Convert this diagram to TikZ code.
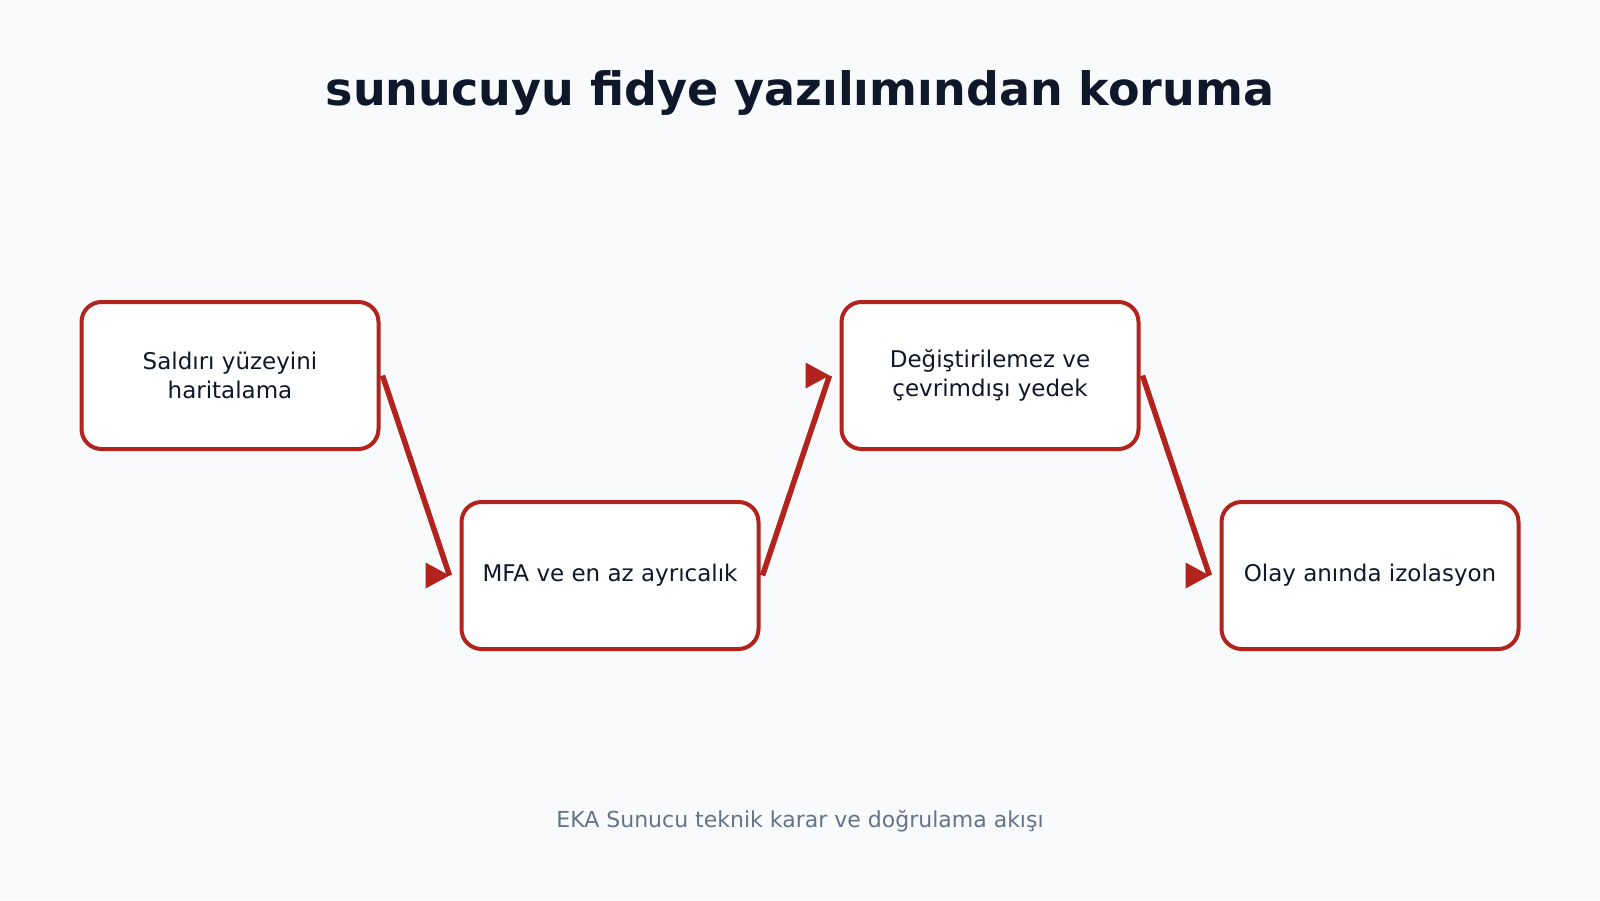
\documentclass[tikz,border=0pt]{standalone}
\usepackage{fontspec}
\setmainfont{DejaVu Sans}
\definecolor{bg}{HTML}{F8FAFC}
\definecolor{accent}{HTML}{B2231E}
\definecolor{ink}{HTML}{0F172A}
\definecolor{muted}{HTML}{64748B}
\begin{document}
\begin{tikzpicture}[x=1pt,y=-1pt,
  stepbox/.style={draw=accent, line width=4pt, fill=white, rounded corners=20pt,
    minimum width=297pt, minimum height=147pt, align=center, text=ink,
    font=\fontsize{23}{29}\selectfont, inner sep=0pt},
  conn/.style={draw=accent, line width=5.5pt},
  tip/.style={fill=accent}]
\fill[bg] (0,0) rectangle (1600,900);
\useasboundingbox (0,0) rectangle (1600,900);
\node[text=ink, font=\fontsize{46}{54}\selectfont\bfseries] (title) at (800,93) {sunucuyu fidye yazılımından koruma};
\node[stepbox] (b1) at (230,375.5) {Saldırı yüzeyini\\haritalama};
\node[stepbox] (b2) at (610,575.5) {\raisebox{-2pt}{MFA ve en az ayrıcalık}};
\node[stepbox] (b3) at (990,375.5) {Değiştirilemez ve\\çevrimdışı yedek};
\node[stepbox] (b4) at (1370,575.5) {\raisebox{-2pt}{Olay anında izolasyon}};
\node[text=muted, font=\fontsize{22}{26}\selectfont] (foot) at (800,821) {EKA Sunucu teknik karar ve doğrulama akışı};
\coordinate (t1) at ([xshift=-10pt]b2.west);
\coordinate (t2) at ([xshift=-10pt]b3.west);
\coordinate (t3) at ([xshift=-10pt]b4.west);
\draw[conn] ([xshift=2pt]b1.east) -- (t1);
\draw[conn] ([xshift=2pt]b2.east) -- (t2);
\draw[conn] ([xshift=2pt]b3.east) -- (t3);
\fill[tip] (t1) -- ++(-24,-13) -- ++(0,26) -- cycle;
\fill[tip] (t2) -- ++(-24,-13) -- ++(0,26) -- cycle;
\fill[tip] (t3) -- ++(-24,-13) -- ++(0,26) -- cycle;
\end{tikzpicture}
\end{document}
